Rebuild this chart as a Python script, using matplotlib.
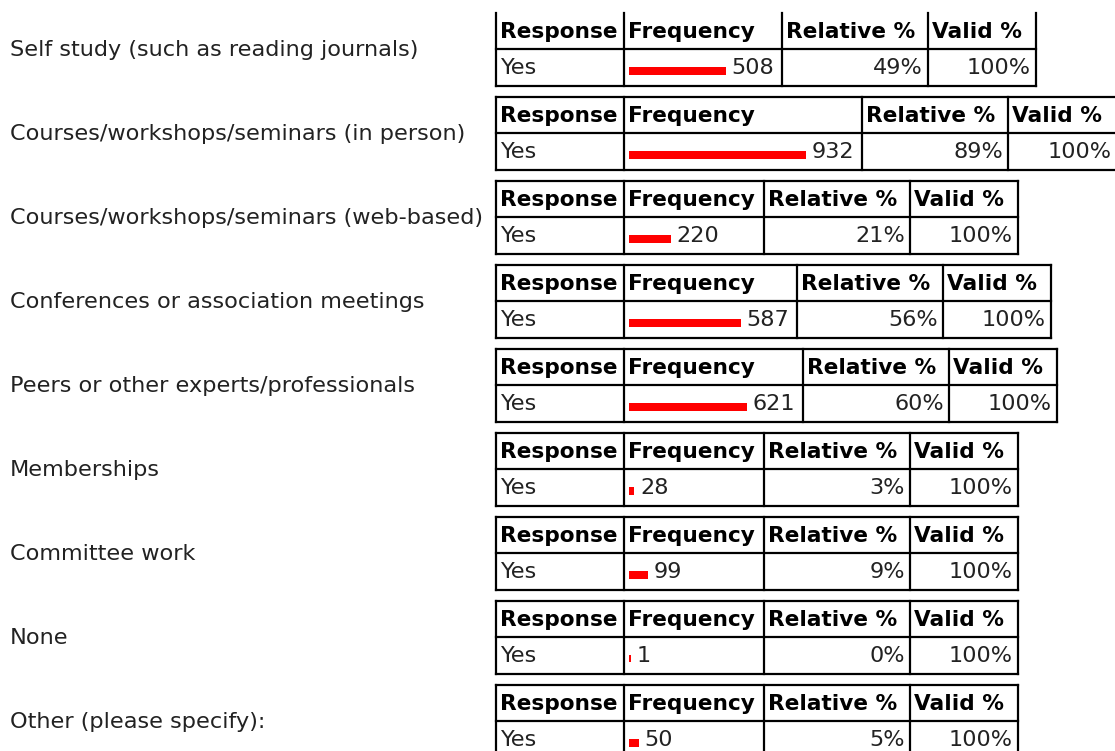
import matplotlib.pyplot as plt
from matplotlib.patches import Rectangle

# data
categories = [
    "Self study (such as reading journals)",
    "Courses/workshops/seminars (in person)",
    "Courses/workshops/seminars (web-based)",
    "Conferences or association meetings",
    "Peers or other experts/professionals",
    "Memberships",
    "Committee work",
    "None",
    "Other (please specify):",
]
response = "Yes"
frequency = [508, 932, 220, 587, 621, 28, 99, 1, 50]
relative_pct = [49, 89, 21, 56, 60, 3, 9, 0, 5]
valid_pct = [100, 100, 100, 100, 100, 100, 100, 100, 100]
headers = ["Response", "Frequency", "Relative %", "Valid %"]

W, H = 1115, 751
fig = plt.figure(figsize=(W / 100, H / 100), dpi=100)
ax = fig.add_axes([0, 0, 1, 1])
ax.set_xlim(0, W)
ax.set_ylim(H, 0)
ax.axis("off")

FS = 16.1        # regular text
FS_B = 15.6      # bold headers
BAR_SCALE = 0.19   # px per unit
x0 = 496           # table left
resp_w = 128
rel_w = 146
val_w = 108
row_h = 36.5
top0 = 12.5
step = 84
lw = 1.6

for i, cat in enumerate(categories):
    top = top0 + step * i
    mid = top + row_h
    bottom = top + 2 * row_h

    bar_len = max(frequency[i] * BAR_SCALE, 1.5)
    freq_w = max(140, 5 + bar_len + 56)
    xs = [x0, x0 + resp_w, x0 + resp_w + freq_w,
          x0 + resp_w + freq_w + rel_w,
          x0 + resp_w + freq_w + rel_w + val_w]

    # label on the left
    ax.text(10, top + row_h + 1.5, cat, fontsize=FS, va="center", ha="left",
            color="#222222")

    # grid lines (top border of the first table is cut off)
    for x in xs:
        ax.plot([x, x], [top, bottom], color="black", lw=lw,
                solid_capstyle="projecting")
    hlines = (mid, bottom) if i == 0 else (top, mid, bottom)
    for y in hlines:
        ax.plot([xs[0], xs[-1]], [y, y], color="black", lw=lw,
                solid_capstyle="projecting")

    # header row
    for j, h in enumerate(headers):
        ax.text(xs[j] + 4, top + row_h / 2 + 1, h, fontsize=FS_B,
                fontweight="bold", va="center", ha="left", color="black")

    # data row
    yc = mid + row_h / 2
    ax.text(xs[0] + 4, yc + 1, response, fontsize=FS, va="center",
            ha="left", color="#222222")
    bx = xs[1] + 5
    ax.add_patch(Rectangle((bx, yc), bar_len, 8 if frequency[i] > 10 else 7,
                           facecolor="#ff0000", edgecolor="none"))
    ax.text(bx + bar_len + 6, yc + 1, str(frequency[i]), fontsize=FS,
            va="center", ha="left", color="#222222")
    ax.text(xs[3] - 5, yc + 1, f"{relative_pct[i]}%", fontsize=FS,
            va="center", ha="right", color="#222222")
    ax.text(xs[4] - 5, yc + 1, f"{valid_pct[i]}%", fontsize=FS,
            va="center", ha="right", color="#222222")

fig.savefig("out.png", dpi=100, facecolor="white")
